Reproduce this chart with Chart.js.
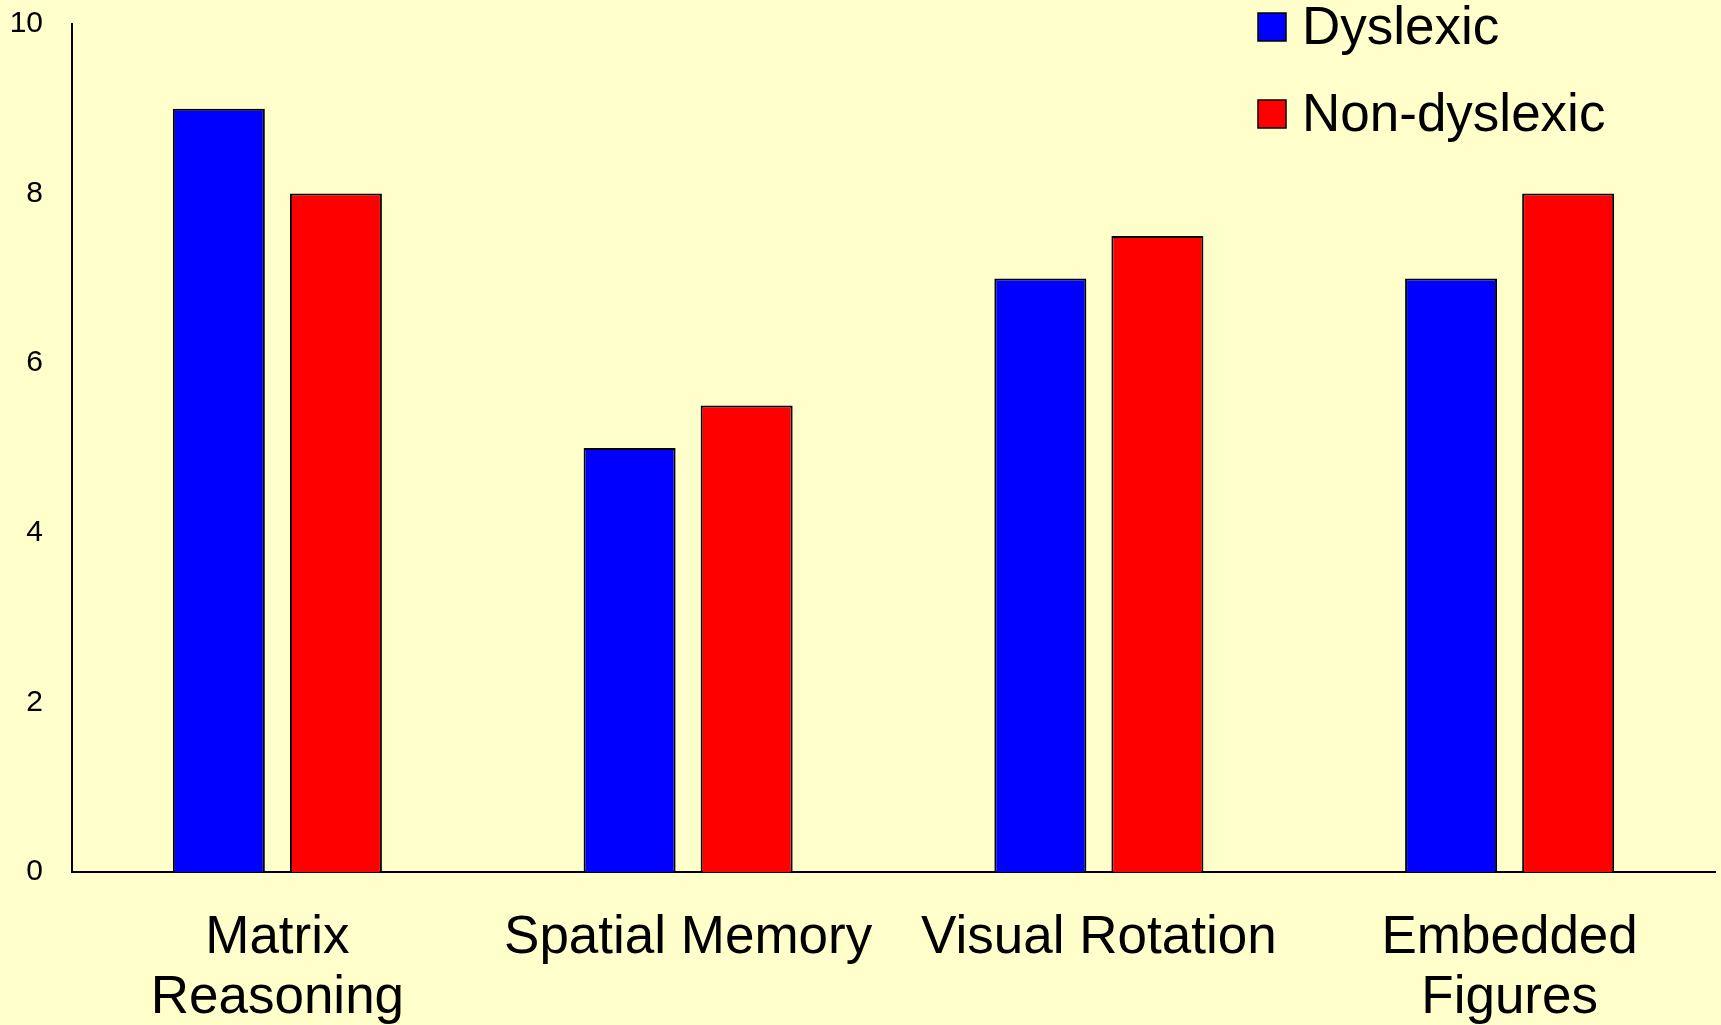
<!DOCTYPE html>
<html>
<head>
<meta charset="utf-8">
<title>Dyslexic vs Non-dyslexic scores</title>
<script src="https://cdn.jsdelivr.net/npm/chart.js@4.4.1/dist/chart.umd.min.js"></script>
<style>
  html, body { margin: 0; padding: 0; background: #FFFFCC; }
  #wrap { width: 1721px; height: 1025px; }
</style>
</head>
<body>
<div id="wrap"><canvas id="chart" width="1721" height="1025"></canvas></div>
<script>
// Task categories (multi-line where the label wraps)
const categories = [
  ['Matrix', 'Reasoning'],
  'Spatial Memory',
  'Visual Rotation',
  ['Embedded', 'Figures']
];

// Series
const seriesNames = ['Dyslexic', 'Non-dyslexic'];
const dyslexic = [9, 5, 7, 7];
const nonDyslexic = [8, 5.5, 7.5, 8];

// Value axis
const yMin = 0;
const yMax = 10;
const yStep = 2;

const FONT = '"Liberation Sans", Arial, sans-serif';

// Legend drawn in the upper-right corner over the plot area
const cornerLegend = {
  id: 'cornerLegend',
  afterDraw(chart) {
    const ctx = chart.ctx;
    const area = chart.chartArea;
    const boxX = area.right - 457;
    const boxSize = 28;
    const rowTops = [13, 100];
    ctx.save();
    ctx.font = '53px ' + FONT;
    ctx.textBaseline = 'middle';
    ctx.textAlign = 'left';
    chart.data.datasets.forEach((ds, i) => {
      const top = rowTops[i];
      ctx.fillStyle = ds.backgroundColor;
      ctx.fillRect(boxX, top, boxSize, boxSize);
      ctx.lineWidth = 1.5;
      ctx.strokeStyle = '#000000';
      ctx.strokeRect(boxX, top, boxSize, boxSize);
      ctx.fillStyle = '#000000';
      ctx.fillText(ds.label, boxX + 44, top + boxSize / 2 + 2);
    });
    ctx.restore();
  }
};

new Chart(document.getElementById('chart'), {
  type: 'bar',
  data: {
    labels: categories,
    datasets: [
      {
        label: seriesNames[0],
        data: dyslexic,
        backgroundColor: '#0000FF',
        borderColor: '#000000',
        borderWidth: 2,
        borderSkipped: 'start'
      },
      {
        label: seriesNames[1],
        data: nonDyslexic,
        backgroundColor: '#FF0000',
        borderColor: '#000000',
        borderWidth: 2,
        borderSkipped: 'start'
      }
    ]
  },
  options: {
    responsive: false,
    animation: false,
    layout: { padding: { top: 0, right: 6, left: 0, bottom: 0 } },
    datasets: {
      bar: { categoryPercentage: 0.57, barPercentage: 0.786 }
    },
    plugins: {
      legend: { display: false },
      tooltip: { enabled: false }
    },
    scales: {
      x: {
        grid: { display: false, drawTicks: false },
        border: { display: true, color: '#000000', width: 2 },
        ticks: {
          color: '#000000',
          font: { family: FONT, size: 53, lineHeight: 1.14 },
          padding: 36,
          maxRotation: 0,
          autoSkip: false
        },
        afterFit(scale) { scale.height = 153; }
      },
      y: {
        min: yMin,
        max: yMax,
        grid: { display: false, drawTicks: false },
        border: { display: true, color: '#000000', width: 2 },
        ticks: {
          stepSize: yStep,
          color: '#000000',
          font: { family: FONT, size: 30 },
          padding: 29
        },
        afterFit(scale) {
          scale.width = 72;
          scale.paddingTop = 24;
          scale.paddingBottom = 0;
        }
      }
    }
  },
  plugins: [cornerLegend]
});
</script>
</body>
</html>
